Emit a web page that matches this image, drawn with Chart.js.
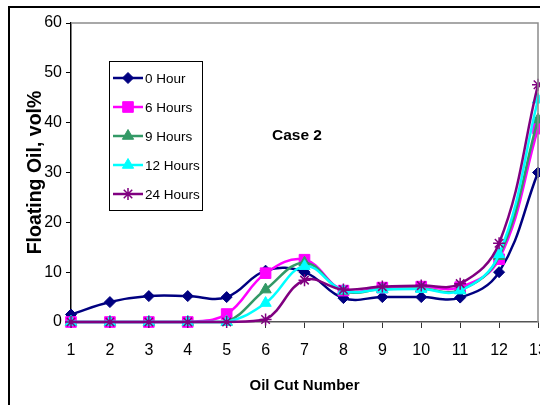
<!DOCTYPE html>
<html>
<head>
<meta charset="utf-8">
<script src="https://cdn.jsdelivr.net/npm/chart.js@4"></script>
<style>
  html, body { margin: 0; padding: 0; background: #fff; overflow: hidden; }
  #wrap { position: absolute; left: 0; top: 0; width: 570px; height: 405px; }
</style>
</head>
<body>
<div id="wrap"><canvas id="oilChart" width="570" height="405"></canvas></div>
<script>
// Oil cut numbers (x categories)
const cuts = ['1', '2', '3', '4', '5', '6', '7', '8', '9', '10', '11', '12', '13'];

// Floating oil, vol% for each settling time
const hour0  = [1.5, 4, 5.2, 5.2, 5, 10.3, 10, 4.8, 5, 5, 4.9, 10, 30];
const hour6  = [0, 0, 0, 0, 1.6, 9.8, 12.5, 6.3, 6.9, 7.1, 7, 12.6, 38.8];
const hour9  = [0, 0, 0, 0, 0, 6.5, 11.9, 6.2, 6.6, 6.7, 6.4, 13.2, 40.6];
const hour12 = [0, 0, 0, 0, 0, 3.8, 11.2, 6.3, 6.5, 6.6, 6.3, 13.6, 44.6];
const hour24 = [0, 0, 0, 0, 0, 0.5, 8.4, 6.5, 7.1, 7.3, 7.7, 15.8, 47.6];

const seriesNames = ['0 Hour', '6 Hours', '9 Hours', '12 Hours', '24 Hours'];
const yTicks = [0, 10, 20, 30, 40, 50, 60];

const arial = "'Liberation Sans', Arial, sans-serif";

function makeSet(label, data, color, style, radius, idx) {
    return {
        label: label,
        data: data,
        borderColor: color,
        backgroundColor: color,
        borderWidth: 2.5,
        pointStyle: style,
        pointRadius: radius,
        pointBorderWidth: style === 'star' ? 1.5 : 1,
        pointBackgroundColor: color,
        pointBorderColor: color,
        tension: 0.4,
        clip: false,
        order: 4 - idx
    };
}

const datasets = [
    makeSet(seriesNames[0], hour0, '#000080', 'rectRot', 5.5, 0),
    makeSet(seriesNames[1], hour6, '#FF00FF', 'rect', 7.5, 1),
    makeSet(seriesNames[2], hour9, '#339966', 'triangle', 6.5, 2),
    makeSet(seriesNames[3], hour12, '#00FFFF', 'triangle', 6.5, 3),
    makeSet(seriesNames[4], hour24, '#800080', 'star', 6, 4)
];

// frame, plot border, legend box and "Case 2" label
const decorations = {
    id: 'decorations',
    beforeDraw(chart) {
        const ctx = chart.ctx;
        ctx.save();
        ctx.fillStyle = '#fff';
        ctx.fillRect(0, 0, chart.width, chart.height);
        ctx.strokeStyle = '#000';
        ctx.lineWidth = 2;
        ctx.strokeRect(9, 7, 700, 700);
        ctx.restore();
    },
    afterDatasetsDraw(chart) {
        const a = chart.chartArea;
        const ctx = chart.ctx;
        ctx.save();
        ctx.strokeStyle = '#8c8c8c';
        ctx.lineWidth = 1.5;
        ctx.beginPath();
        ctx.moveTo(a.left, a.top);
        ctx.lineTo(a.right, a.top);
        ctx.lineTo(a.right, a.bottom);
        ctx.stroke();
        ctx.restore();
    },
    afterDraw(chart) {
        const ctx = chart.ctx;
        ctx.save();
        // case label
        ctx.fillStyle = '#000';
        ctx.font = 'bold 15.5px ' + arial;
        ctx.textAlign = 'center';
        ctx.textBaseline = 'middle';
        ctx.fillText('Case 2', 297, 136);

        // legend
        ctx.fillStyle = '#fff';
        ctx.fillRect(109, 61, 93, 149);
        ctx.strokeStyle = '#000';
        ctx.lineWidth = 1;
        ctx.strokeRect(109.5, 61.5, 93, 149);
        const rows = [78, 107, 136, 165, 194];
        chart.data.datasets.forEach(function(ds, i) {
            const y = rows[i];
            ctx.strokeStyle = ds.borderColor;
            ctx.lineWidth = 2.5;
            ctx.beginPath();
            ctx.moveTo(113, y);
            ctx.lineTo(143, y);
            ctx.stroke();
            ctx.fillStyle = ds.pointBackgroundColor;
            ctx.strokeStyle = ds.pointBorderColor;
            ctx.lineWidth = ds.pointBorderWidth;
            Chart.helpers.drawPoint(ctx, {
                pointStyle: ds.pointStyle,
                radius: ds.pointRadius,
                rotation: 0,
                borderWidth: ds.pointBorderWidth
            }, 128, y);
            ctx.fillStyle = '#000';
            ctx.font = '13.5px ' + arial;
            ctx.textAlign = 'left';
            ctx.textBaseline = 'middle';
            ctx.fillText(ds.label, 145, y + 1);
        });
        ctx.restore();
    }
};

new Chart(document.getElementById('oilChart').getContext('2d'), {
    type: 'line',
    data: {
        labels: cuts,
        datasets: datasets
    },
    options: {
        responsive: false,
        animation: false,
        devicePixelRatio: 1,
        layout: {
            padding: { left: 0, top: 23, right: 32, bottom: 0 }
        },
        plugins: {
            legend: { display: false },
            tooltip: { enabled: false }
        },
        scales: {
            x: {
                offset: false,
                grid: {
                    drawOnChartArea: false,
                    drawTicks: true,
                    tickLength: 6,
                    color: '#333'
                },
                border: { color: '#555', width: 1.5 },
                ticks: {
                    color: '#000',
                    font: { family: arial, size: 16 },
                    padding: 13,
                    maxRotation: 0,
                    autoSkip: false
                },
                title: {
                    display: true,
                    text: 'Oil Cut Number',
                    color: '#000',
                    font: { family: arial, size: 15, weight: 'bold' },
                    padding: { top: 0, bottom: 10 }
                },
                afterFit: function(scale) { scale.height = 83; }
            },
            y: {
                min: 0,
                max: 60,
                afterBuildTicks: function(scale) {
                    scale.ticks = yTicks.map(function(v) { return { value: v }; });
                },
                grid: {
                    drawOnChartArea: false,
                    drawTicks: true,
                    tickLength: 5,
                    color: '#000'
                },
                border: { color: '#000', width: 1.5 },
                ticks: {
                    color: '#000',
                    font: { family: arial, size: 16 },
                    padding: 4
                },
                title: {
                    display: true,
                    text: 'Floating Oil, vol%',
                    color: '#000',
                    font: { family: arial, size: 19.5, weight: 'bold' },
                    padding: { top: 24, bottom: 0 }
                },
                afterFit: function(scale) { scale.width = 71; }
            }
        }
    },
    plugins: [decorations]
});
</script>
</body>
</html>
